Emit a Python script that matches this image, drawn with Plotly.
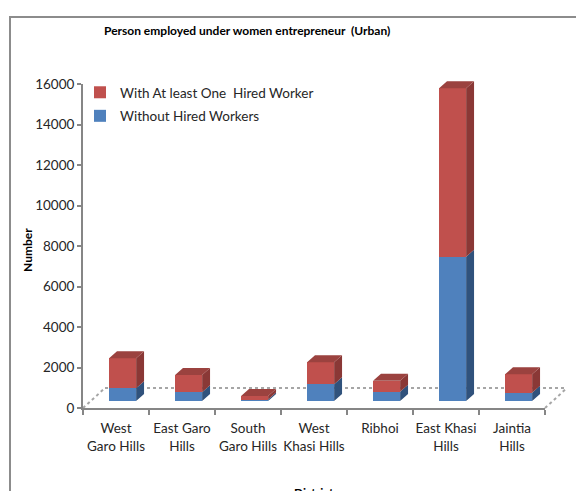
import plotly.graph_objects as go

# ---- data ----
districts = ["West<br>Garo Hills", "East Garo<br>Hills", "South<br>Garo Hills",
             "West<br>Khasi Hills", "Ribhoi", "East Khasi<br>Hills", "Jaintia<br>Hills"]
without_hired = [630, 430, 70, 825, 460, 7125, 410]
with_hired = [1480, 850, 180, 1085, 540, 8315, 910]
y_tick_vals = [0, 2000, 4000, 6000, 8000, 10000, 12000, 14000, 16000]

# ---- style constants ----
FONT = "Lato, 'Open Sans', Arial, sans-serif"
TXT = 13.5
BLUE, BLUE_SIDE = "#4F81BD", "#30527C"
RED, RED_SIDE, RED_TOP = "#C0504D", "#8A3836", "#9B423F"
BAR_W = 0.41
BAR_SHIFT = 0.1
DEPTH_X = 0.12
DEPTH_Y = 345

H = 338.0     # plot height in px
W = 462.0     # plot width in px

idx = list(range(len(districts)))
n = len(districts)
fig = go.Figure()

fig.add_trace(go.Bar(x=idx, y=without_hired, name="Without Hired Workers",
                     marker=dict(color=BLUE, line=dict(width=0)), legendgroup="a", legendrank=2,
                     width=BAR_W, offset=BAR_SHIFT - BAR_W / 2,
                     xaxis="x", yaxis="y2", hoverinfo="y"))
fig.add_trace(go.Bar(x=idx, y=with_hired, name="With At least One  Hired Worker",
                     marker=dict(color=RED, line=dict(width=0)), legendgroup="b", legendrank=1,
                     width=BAR_W, offset=BAR_SHIFT - BAR_W / 2,
                     xaxis="x", yaxis="y2", hoverinfo="y"))

# pseudo-3D faces, derived from the data values
def side_poly(x1, y0, y1):
    return [x1, x1 + DEPTH_X, x1 + DEPTH_X, x1, x1, None], [y0, y0 + DEPTH_Y, y1 + DEPTH_Y, y1, y0, None]

bx, by, rx, ry, tx, ty = [], [], [], [], [], []
for i, b, r in zip(idx, without_hired, with_hired):
    x0 = i + BAR_SHIFT - BAR_W / 2
    x1 = x0 + BAR_W
    px, py = side_poly(x1, 0, b)
    bx += px; by += py
    px, py = side_poly(x1, b, b + r)
    rx += px; ry += py
    top = b + r
    tx += [x0, x0 + DEPTH_X, x1 + DEPTH_X, x1, x0, None]
    ty += [top, top + DEPTH_Y, top + DEPTH_Y, top, top, None]

for xs, ys, col in [(bx, by, BLUE_SIDE), (rx, ry, RED_SIDE), (tx, ty, RED_TOP)]:
    fig.add_trace(go.Scatter(x=xs, y=ys, fill="toself", fillcolor=col, mode="lines",
                             line=dict(width=0, color=col), showlegend=False,
                             hoverinfo="skip", xaxis="x", yaxis="y2"))

# empty trace so that the value axis (y) is drawn
fig.add_trace(go.Scatter(x=[], y=[], xaxis="x", yaxis="y", showlegend=False, hoverinfo="skip"))

# floor of the 3D plot (paper coordinates)
fdx, fdy = 22 / W, 20 / H
floor_line = dict(color="#A6A6A6", width=2, dash="dot")
fig.add_shape(type="line", xref="paper", yref="paper", x0=fdx, y0=fdy, x1=1 + fdx, y1=fdy,
              line=floor_line, layer="below")
fig.add_shape(type="line", xref="paper", yref="paper", x0=0, y0=0, x1=fdx, y1=fdy,
              line=floor_line, layer="below")
fig.add_shape(type="line", xref="paper", yref="paper", x0=1, y0=0, x1=1 + fdx, y1=fdy,
              line=floor_line, layer="below")

# chart frame
fig.add_shape(type="rect", xref="paper", yref="paper", x0=(10 - 83) / W, y0=(408 - 17) / H,
              x1=1.4, y1=-0.6, line=dict(color="#8C8C8C", width=2))

fig.update_layout(
    width=576, height=483,
    margin=dict(l=75, r=39, t=62, b=83, autoexpand=False),
    paper_bgcolor="white", plot_bgcolor="rgba(0,0,0,0)",
    barmode="stack", bargap=0,
    font=dict(family=FONT, size=TXT, color="#262626"),
    showlegend=True,
    legend=dict(x=-3 / W, y=(408 - 77) / H, xanchor="left", yanchor="top",
                traceorder="grouped", tracegroupgap=3,
                bgcolor="rgba(0,0,0,0)", font=dict(size=TXT, color="#262626")),
    xaxis=dict(range=[-0.5, n - 0.5], tickvals=idx, ticktext=districts, ticks="",
               ticklabelstandoff=7,
               minor=dict(tickvals=[k - 0.5 for k in range(n + 1)], ticks="outside",
                          ticklen=5, tickwidth=2, tickcolor="#868686", showgrid=False),
               showline=True, linecolor="#868686", linewidth=2,
               showgrid=False, zeroline=False, anchor="y",
               tickfont=dict(size=TXT, color="#262626")),
    yaxis=dict(domain=[0, 324 / H], range=[0, 16000], tickvals=y_tick_vals, tickformat="d",
               ticks="outside", ticklen=4, tickwidth=2, tickcolor="#868686",
               showline=True, linecolor="#868686", linewidth=2, showgrid=False,
               zeroline=False, anchor="x", tickfont=dict(size=TXT, color="#262626")),
    yaxis2=dict(domain=[7 / H, 1], range=[0, (H - 7) / 324 * 16000], visible=False,
                anchor="x", showgrid=False, zeroline=False),
    annotations=[
        dict(text="<b>Person employed under women entrepreneur  (Urban)</b>", xref="paper", yref="paper",
             x=(247 - 83) / W, y=(408 - 31) / H, xanchor="center", yanchor="middle",
             showarrow=False, font=dict(size=12, color="#000000")),
        dict(text="<b>Number</b>", xref="paper", yref="paper", x=(27 - 83) / W, y=(408 - 250) / H,
             xanchor="center", yanchor="middle",
             textangle=-90, showarrow=False, font=dict(size=12, color="#000000")),
        dict(text="<b>District</b>", xref="paper", yref="paper", x=0.5, y=(408 - 483) / H,
             xanchor="center", yanchor="top", showarrow=False, font=dict(size=12, color="#000000")),
    ],
)

fig.write_html("out.html")
